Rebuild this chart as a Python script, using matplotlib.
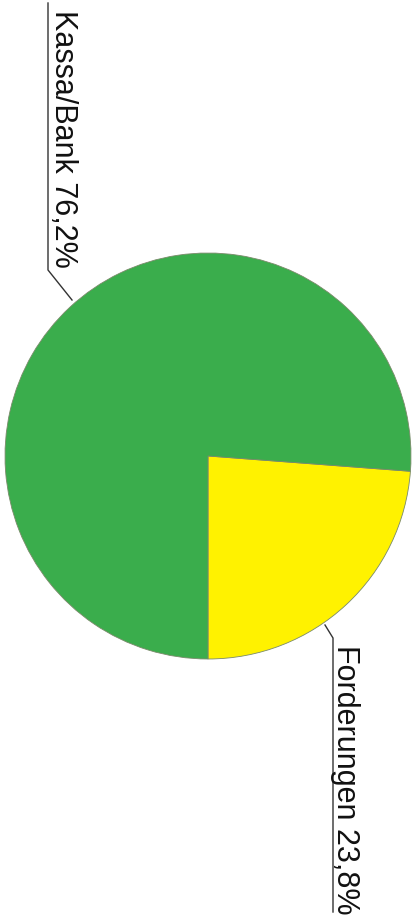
import matplotlib
matplotlib.use("Agg")
import matplotlib.pyplot as plt

labels = ["Forderungen 23,8%", "Kassa/Bank 76,2%"]
values = [23.8, 76.2]
colors = ["#fff200", "#3aad4c"]

W, H = 419, 917
fig = plt.figure(figsize=(W / 100, H / 100), dpi=100)
ax = fig.add_axes([0, 0, 1, 1])
ax.set_xlim(0, W)
ax.set_ylim(0, H)
ax.set_aspect("equal")
ax.axis("off")

cx, cy, r = 208, H - 456, 203
ax.pie(values, colors=colors, startangle=-90, counterclock=True,
       center=(cx, cy), radius=r, frame=True,
       wedgeprops=dict(edgecolor="#7a8a6a", linewidth=0.6))
ax.set_xlim(0, W)
ax.set_ylim(0, H)
ax.axis("off")

font = dict(family=["Liberation Sans", "DejaVu Sans"], fontsize=22, color="#111111")

# Kassa/Bank leader + label
ax.plot([72, 48, 48], [H - 300, H - 270, H - 3], color="#333333", lw=1.0)
ax.text(55, H - 10, labels[1], rotation=-90, rotation_mode="anchor",
        ha="left", va="baseline", **font)

# Forderungen leader + label
ax.plot([325, 333, 333], [H - 625, H - 638, H - 912], color="#333333", lw=1.0)
ax.text(337, H - 645, labels[0], rotation=-90, rotation_mode="anchor",
        ha="left", va="baseline", **font)

fig.savefig("out.png", dpi=100)
